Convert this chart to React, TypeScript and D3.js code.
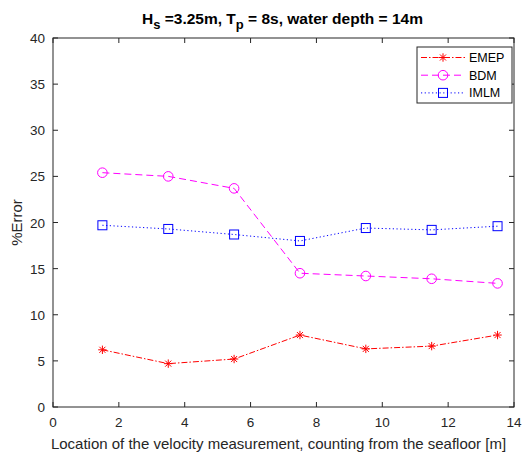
import React from "react";
import * as d3 from "d3";

const locations = [1.5, 3.5, 5.5, 7.5, 9.5, 11.5, 13.5];
const emep = [6.2, 4.7, 5.2, 7.8, 6.3, 6.6, 7.8];
const bdm = [25.4, 25.0, 23.7, 14.5, 14.2, 13.9, 13.4];
const imlm = [19.7, 19.3, 18.7, 18.0, 19.4, 19.2, 19.6];
const xTicks = [0, 2, 4, 6, 8, 10, 12, 14];
const yTicks = [0, 5, 10, 15, 20, 25, 30, 35, 40];

const W = 531;
const H = 453;
const M = { left: 53, right: 17, top: 38, bottom: 46 };
const FONT = "'Liberation Sans', Arial, Helvetica, sans-serif";
const AXIS = "#262626";

type Series = { name: string; values: number[]; color: string; dash: string; marker: "star" | "circle" | "square" };

const series: Series[] = [
  { name: "EMEP", values: emep, color: "#ff0000", dash: "6,2,1.5,2", marker: "star" },
  { name: "BDM", values: bdm, color: "#ff00ff", dash: "7,4", marker: "circle" },
  { name: "IMLM", values: imlm, color: "#0000ff", dash: "1.2,2.5", marker: "square" },
];

function Marker({ type, x, y, color }: { type: Series["marker"]; x: number; y: number; color: string }) {
  if (type === "circle") return <circle cx={x} cy={y} r={4.8} fill="none" stroke={color} strokeWidth={1} />;
  if (type === "square") return <rect x={x - 4.5} y={y - 4.5} width={9} height={9} fill="none" stroke={color} strokeWidth={1} />;
  const r = 4.2;
  const d = r * 0.72;
  return (
    <g stroke={color} strokeWidth={1}>
      <line x1={x - r} y1={y} x2={x + r} y2={y} />
      <line x1={x} y1={y - r} x2={x} y2={y + r} />
      <line x1={x - d} y1={y - d} x2={x + d} y2={y + d} />
      <line x1={x - d} y1={y + d} x2={x + d} y2={y - d} />
    </g>
  );
}

export default function App() {
  const x = d3.scaleLinear().domain([0, 14]).range([M.left, W - M.right]);
  const y = d3.scaleLinear().domain([0, 40]).range([H - M.bottom, M.top]);
  const x0 = x.range()[0], x1 = x.range()[1];
  const y0 = y.range()[0], y1 = y.range()[1];
  const line = d3.line<number>().x((_, i) => x(locations[i])).y((v) => y(v));
  const tick = 5;

  const lg = { x: 417, y: 47, w: 95, h: 56 };

  return (
    <svg width={W} height={H} style={{ position: "absolute", left: 0, top: 0, background: "#fff" }} fontFamily={FONT}>
      <rect x={0} y={0} width={W} height={H} fill="#fff" />
      <text x={(x0 + x1) / 2 - 1} y={24} textAnchor="middle" fontSize={15.5} fontWeight="bold" fill="#000">
        <tspan>H</tspan>
        <tspan dy={5} fontSize={13}>s</tspan>
        <tspan dy={-5}> =3.25m, T</tspan>
        <tspan dy={5} fontSize={13}>p</tspan>
        <tspan dy={-5}> = 8s, water depth = 14m</tspan>
      </text>

      {/* axes box and ticks */}
      <rect x={x0} y={y1} width={x1 - x0} height={y0 - y1} fill="none" stroke={AXIS} strokeWidth={1} />
      {xTicks.map((t) => (
        <g key={"x" + t}>
          <line x1={x(t)} x2={x(t)} y1={y0} y2={y0 - tick} stroke={AXIS} />
          <line x1={x(t)} x2={x(t)} y1={y1} y2={y1 + tick} stroke={AXIS} />
          <text x={x(t)} y={y0 + 20} textAnchor="middle" fontSize={13.5} fill={AXIS}>{t}</text>
        </g>
      ))}
      {yTicks.map((t) => (
        <g key={"y" + t}>
          <line x1={x0} x2={x0 + tick} y1={y(t)} y2={y(t)} stroke={AXIS} />
          <line x1={x1} x2={x1 - tick} y1={y(t)} y2={y(t)} stroke={AXIS} />
          <text x={x0 - 8} y={y(t) + 5} textAnchor="end" fontSize={13.5} fill={AXIS}>{t}</text>
        </g>
      ))}
      <text x={(x0 + x1) / 2 - 5} y={y0 + 42} textAnchor="middle" fontSize={15} fill={AXIS}>
        Location of the velocity measurement, counting from the seafloor [m]
      </text>
      <text transform={`translate(22,${(y0 + y1) / 2}) rotate(-90)`} textAnchor="middle" fontSize={15} fill={AXIS}>
        %Error
      </text>

      {/* data */}
      {series.map((s) => (
        <g key={s.name}>
          <path d={line(s.values) ?? ""} fill="none" stroke={s.color} strokeWidth={1} strokeDasharray={s.dash} />
          {s.values.map((v, i) => (
            <Marker key={i} type={s.marker} x={x(locations[i])} y={y(v)} color={s.color} />
          ))}
        </g>
      ))}

      {/* legend */}
      <rect x={lg.x} y={lg.y} width={lg.w} height={lg.h} fill="#fff" stroke={AXIS} strokeWidth={1} />
      {series.map((s, i) => {
        const cy = lg.y + 10.5 + i * 17.7;
        return (
          <g key={"lg" + s.name}>
            <line x1={lg.x + 4} x2={lg.x + 48} y1={cy} y2={cy} stroke={s.color} strokeDasharray={s.dash} />
            <Marker type={s.marker} x={lg.x + 26} y={cy} color={s.color} />
            <text x={lg.x + 52} y={cy + 4.5} fontSize={12.5} fill="#000">{s.name}</text>
          </g>
        );
      })}
    </svg>
  );
}
